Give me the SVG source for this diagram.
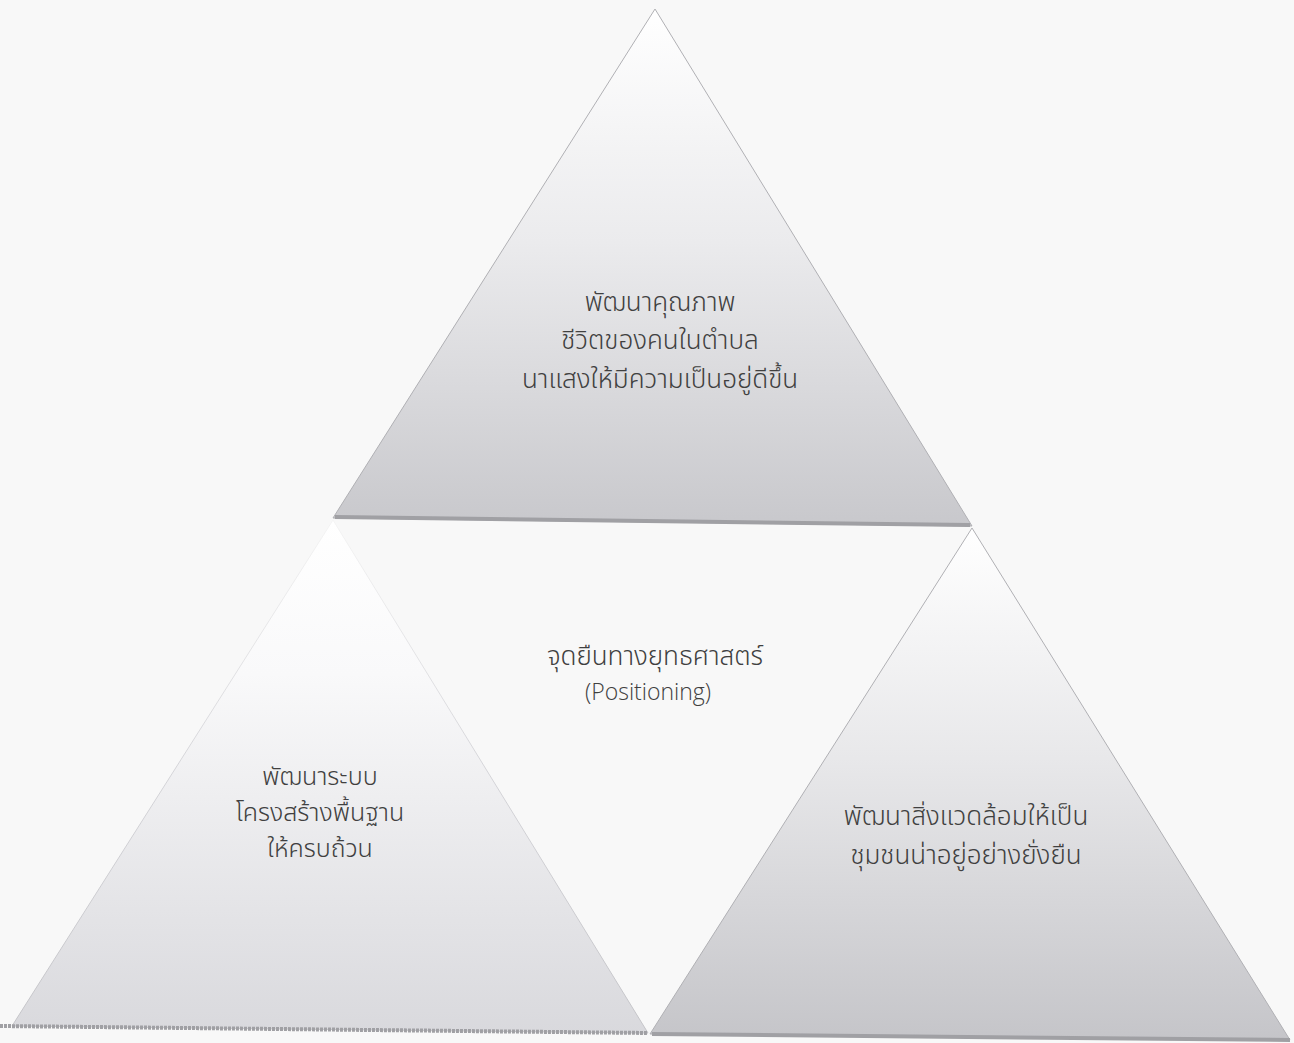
<svg xmlns="http://www.w3.org/2000/svg" width="1294" height="1043" viewBox="0 0 1294 1043">
  <defs>
    <linearGradient id="gTop" x1="0" y1="0" x2="0" y2="1">
      <stop offset="0" stop-color="#ffffff"/>
      <stop offset="0.45" stop-color="#ebebed"/>
      <stop offset="1" stop-color="#c8c8cc"/>
    </linearGradient>
    <linearGradient id="gLeft" x1="0" y1="0" x2="0" y2="1">
      <stop offset="0" stop-color="#ffffff"/>
      <stop offset="0.3" stop-color="#f9f9fa"/>
      <stop offset="1" stop-color="#d9d9dd"/>
    </linearGradient>
    <linearGradient id="gLeftStroke" x1="0" y1="0" x2="0" y2="1">
      <stop offset="0" stop-color="#f4f4f4"/>
      <stop offset="0.5" stop-color="#d4d4d8"/>
      <stop offset="1" stop-color="#c4c4c8"/>
    </linearGradient>
    <linearGradient id="gRight" x1="0" y1="0" x2="0" y2="1">
      <stop offset="0" stop-color="#ffffff"/>
      <stop offset="0.45" stop-color="#e8e8ea"/>
      <stop offset="1" stop-color="#c5c5c9"/>
    </linearGradient>
    <style>
      .tri { stroke: #b0b0b4; stroke-width: 1; }
      .base { stroke: #a0a0a4; stroke-width: 4; fill: none; }
      .th { font-family: "Noto Sans Thai", "Noto Sans Thai UI", "Noto Sans", "DejaVu Sans", sans-serif; font-size: 26px; font-weight: 300; fill: #404040; text-anchor: middle; }
      .sm { font-size: 25px; }
      .en { font-family: "Open Sans", "Noto Sans", sans-serif; font-size: 23px; font-weight: 300; fill: #404040; text-anchor: middle; }
    </style>
  </defs>
  <rect width="1294" height="1043" fill="#f8f8f8"/>
  <g id="connectors"/>
  <g id="node-top">
    <polygon class="tri" points="655,9 972,526 333,518" fill="url(#gTop)"/>
    <line class="base" x1="335" y1="517" x2="970" y2="525"/>
    <text class="th" x="660" y="311">พัฒนาคุณภาพ</text>
    <text class="th" x="660" y="349">ชีวิตของคนในตำบล</text>
    <text class="th" x="660" y="388">นาแสงให้มีความเป็นอยู่ดีขึ้น</text>
  </g>
  <g id="node-left">
    <polygon points="333,520 648,1033 12,1026" fill="url(#gLeft)" stroke="url(#gLeftStroke)" stroke-width="1"/>
    <line class="base" x1="0" y1="1026" x2="648" y2="1033" stroke-dasharray="3 1"/>
    <text class="th sm" x="320" y="785">พัฒนาระบบ</text>
    <text class="th sm" x="320" y="821">โครงสร้างพื้นฐาน</text>
    <text class="th sm" x="320" y="857">ให้ครบถ้วน</text>
  </g>
  <g id="node-right">
    <polygon class="tri" points="972,528 1290,1040 650,1034" fill="url(#gRight)"/>
    <line class="base" x1="652" y1="1034" x2="1290" y2="1040"/>
    <text class="th" x="966" y="825">พัฒนาสิ่งแวดล้อมให้เป็น</text>
    <text class="th" x="966" y="864">ชุมชนน่าอยู่อย่างยั่งยืน</text>
  </g>
  <g id="node-center">
    <text class="th" x="655" y="665">จุดยืนทางยุทธศาสตร์</text>
    <text class="en" x="648" y="700">(Positioning)</text>
  </g>
</svg>
